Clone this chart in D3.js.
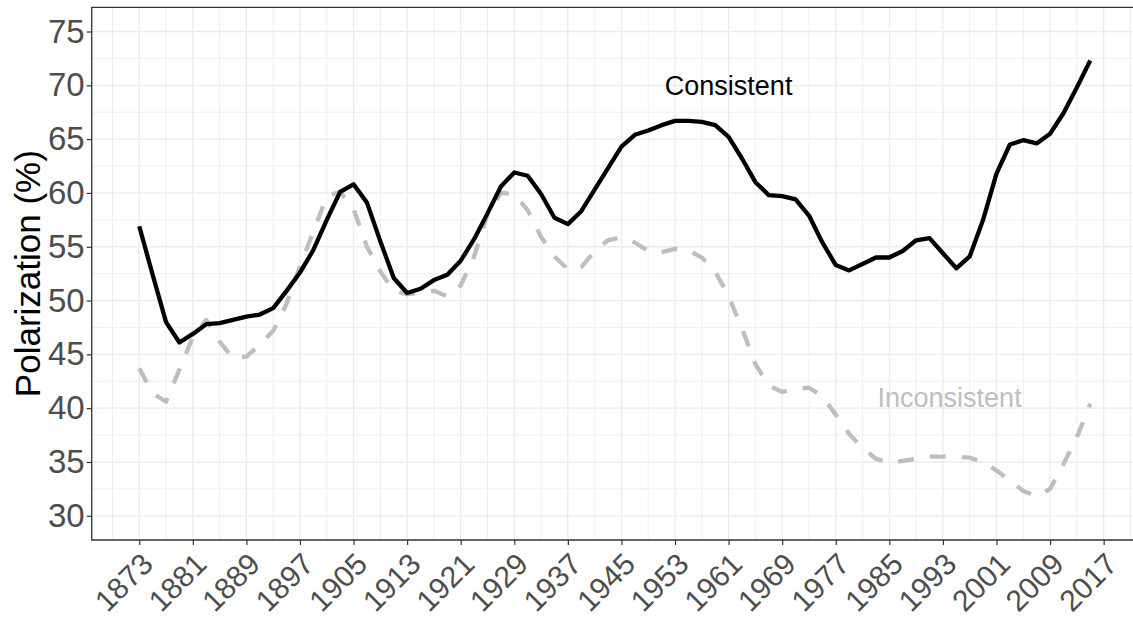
<!DOCTYPE html>
<html>
<head>
<meta charset="utf-8">
<script src="https://cdn.jsdelivr.net/npm/d3@7"></script>
<style>
  body { margin: 0; background: #fff; overflow: hidden; }
  svg { display: block; font-family: "Liberation Sans", Arial, sans-serif; }
</style>
</head>
<body>
<svg id="canvas"></svg>
<script>
// Congress years (every 2 years)
var years = [1873, 1875, 1877, 1879, 1881, 1883, 1885, 1887, 1889, 1891, 1893, 1895,
  1897, 1899, 1901, 1903, 1905, 1907, 1909, 1911, 1913, 1915, 1917, 1919,
  1921, 1923, 1925, 1927, 1929, 1931, 1933, 1935, 1937, 1939, 1941, 1943,
  1945, 1947, 1949, 1951, 1953, 1955, 1957, 1959, 1961, 1963, 1965, 1967,
  1969, 1971, 1973, 1975, 1977, 1979, 1981, 1983, 1985, 1987, 1989, 1991,
  1993, 1995, 1997, 1999, 2001, 2003, 2005, 2007, 2009, 2011, 2013, 2015];

var consistent = [56.9, 52.4, 48.0, 46.1, 46.9, 47.8, 47.9, 48.2, 48.5, 48.7, 49.3, 50.9,
  52.6, 54.7, 57.5, 60.1, 60.8, 59.1, 55.5, 52.1, 50.7, 51.1, 51.9, 52.4,
  53.7, 55.7, 58.1, 60.6, 61.9, 61.6, 59.9, 57.7, 57.1, 58.3, 60.3, 62.3,
  64.3, 65.4, 65.8, 66.3, 66.7, 66.7, 66.6, 66.3, 65.2, 63.2, 61.0, 59.8,
  59.7, 59.4, 57.9, 55.4, 53.3, 52.8, 53.4, 54.0, 54.0, 54.6, 55.6, 55.8,
  54.4, 53.0, 54.1, 57.5, 61.8, 64.5, 64.9, 64.6, 65.5, 67.4, 69.8, 72.3];

var inconsistent = [43.7, 41.4, 40.6, 43.6, 46.6, 48.2, 46.2, 44.6, 44.8, 45.9, 47.2, 49.7,
  53.2, 56.4, 59.7, 60.1, 58.5, 55.0, 52.7, 50.9, 50.6, 50.7, 50.9, 50.4,
  51.4, 54.1, 58.0, 60.0, 59.9, 58.4, 55.9, 54.1, 52.9, 53.1, 54.6, 55.6,
  55.9, 55.4, 54.6, 54.5, 54.8, 54.7, 54.0, 52.7, 50.4, 47.4, 44.1, 42.1,
  41.5, 41.8, 41.9, 41.1, 39.4, 37.6, 36.3, 35.3, 34.9, 35.1, 35.3, 35.5,
  35.5, 35.5, 35.4, 35.0, 34.2, 33.3, 32.3, 31.8, 32.5, 34.8, 37.3, 40.4];

var xTicks = [1873, 1881, 1889, 1897, 1905, 1913, 1921, 1929, 1937, 1945, 1953,
  1961, 1969, 1977, 1985, 1993, 2001, 2009, 2017];
var yTicks = [30, 35, 40, 45, 50, 55, 60, 65, 70, 75];

var canvasWidth = 1133;
var canvasHeight = 618;

// Panel edges (right edge runs past the window like the original)
var panel = { left: 91.7, top: 7.3, right: 1137.8, bottom: 540 };

var svg = d3.select('#canvas')
  .attr('width', canvasWidth)
  .attr('height', canvasHeight);

var x = d3.scaleLinear()
  .domain([1865.9, 2022.1])
  .range([panel.left, panel.right]);

var y = d3.scaleLinear()
  .domain([27.75, 77.25])
  .range([panel.bottom, panel.top]);

// Minor grid values sit halfway between the major ones
var xMinor = [xTicks[0] - 4].concat(xTicks.map(function(d) { return d + 4; }));
var yMinor = yTicks.map(function(d) { return d + 2.5; }).filter(function(d) { return d < 77; });

var grid = svg.append('g').classed('grid', true);

grid.selectAll('.minor-x').data(xMinor).enter().append('line')
  .attr('x1', function(d) { return x(d); }).attr('x2', function(d) { return x(d); })
  .attr('y1', panel.top).attr('y2', panel.bottom)
  .attr('stroke', '#ebebeb').attr('stroke-width', 0.8);

grid.selectAll('.minor-y').data(yMinor).enter().append('line')
  .attr('x1', panel.left).attr('x2', panel.right)
  .attr('y1', function(d) { return y(d); }).attr('y2', function(d) { return y(d); })
  .attr('stroke', '#ebebeb').attr('stroke-width', 0.8);

grid.selectAll('.major-x').data(xTicks).enter().append('line')
  .attr('x1', function(d) { return x(d); }).attr('x2', function(d) { return x(d); })
  .attr('y1', panel.top).attr('y2', panel.bottom)
  .attr('stroke', '#ebebeb').attr('stroke-width', 1.3);

grid.selectAll('.major-y').data(yTicks).enter().append('line')
  .attr('x1', panel.left).attr('x2', panel.right)
  .attr('y1', function(d) { return y(d); }).attr('y2', function(d) { return y(d); })
  .attr('stroke', '#ebebeb').attr('stroke-width', 1.3);

// Lines
var line = function(values) {
  return d3.line()
    .x(function(d, i) { return x(years[i]); })
    .y(function(d) { return y(d); })(values);
};

svg.append('path')
  .attr('d', line(inconsistent))
  .attr('fill', 'none')
  .attr('stroke', '#bebebe')
  .attr('stroke-width', 4.3)
  .attr('stroke-dasharray', '16,16')
  .attr('stroke-linejoin', 'round');

svg.append('path')
  .attr('d', line(consistent))
  .attr('fill', 'none')
  .attr('stroke', 'black')
  .attr('stroke-width', 4.3)
  .attr('stroke-linejoin', 'round');

// Labels inside the panel
svg.append('text')
  .attr('x', x(1961)).attr('y', y(70))
  .attr('dy', '0.35em')
  .attr('text-anchor', 'middle')
  .style('font-size', '27px')
  .attr('fill', 'black')
  .text('Consistent');

svg.append('text')
  .attr('x', x(1994)).attr('y', y(41))
  .attr('dy', '0.35em')
  .attr('text-anchor', 'middle')
  .style('font-size', '27px')
  .attr('fill', '#bebebe')
  .text('Inconsistent');

// Panel border: the right side falls outside the window
svg.append('path')
  .attr('d', 'M' + panel.right + ',' + panel.top + 'H' + panel.left +
    'V' + panel.bottom + 'H' + panel.right)
  .attr('fill', 'none')
  .attr('stroke', '#333333')
  .attr('stroke-width', 1.3);

// Y axis
var yAxis = svg.append('g')
  .attr('transform', 'translate(' + panel.left + ',0)')
  .call(d3.axisLeft(y).tickValues(yTicks).tickSize(5).tickPadding(2));
yAxis.select('.domain').remove();
yAxis.selectAll('line').attr('stroke', '#333333').attr('stroke-width', 1.2);
yAxis.selectAll('text')
  .attr('fill', '#4d4d4d')
  .style('font-size', '33px')
  .style('font-family', '"Liberation Sans", Arial, sans-serif');

// X axis
var xAxis = svg.append('g')
  .attr('transform', 'translate(0,' + panel.bottom + ')')
  .call(d3.axisBottom(x).tickValues(xTicks).tickSize(5).tickFormat(d3.format('d')));
xAxis.select('.domain').remove();
xAxis.selectAll('line').attr('stroke', '#333333').attr('stroke-width', 1.2);
xAxis.selectAll('text')
  .attr('x', 0).attr('y', 0).attr('dy', 0)
  .attr('text-anchor', 'end')
  .attr('transform', 'translate(15,26) rotate(-45)')
  .attr('fill', '#4d4d4d')
  .style('font-size', '30px')
  .style('font-family', '"Liberation Sans", Arial, sans-serif');

// Y axis title
svg.append('text')
  .attr('transform', 'translate(40,' + ((panel.top + panel.bottom) / 2) + ') rotate(-90)')
  .attr('text-anchor', 'middle')
  .style('font-size', '35px')
  .attr('fill', 'black')
  .text('Polarization (%)');
</script>
</body>
</html>
